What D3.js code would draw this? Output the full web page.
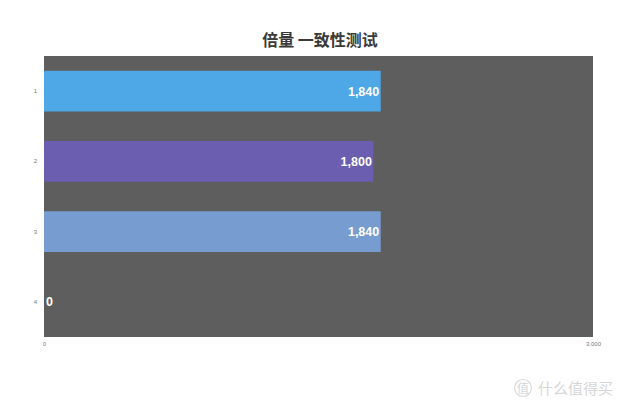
<!DOCTYPE html>
<html>
<head>
<meta charset="utf-8">
<script src="https://cdn.jsdelivr.net/npm/d3@7"></script>
<style>
	body { margin: 0; background: #fff; }
	svg { display: block; font-family: "Noto Sans CJK SC", "Liberation Sans", sans-serif; }
</style>
</head>
<body>
<svg id="chart"></svg>
<script>
var title = "倍量 一致性测试";
var categories = ["1", "2", "3", "4"];
var values = [1840, 1800, 1840, 0];
var barColors = ["#4ea7e7", "#6b5db0", "#779dd0", "#5e5e5e"];
var xTicks = [0, 3000];

var width = 640, height = 410;
var margin = {top: 56, right: 47, bottom: 73, left: 44};

var svg = d3.select("#chart")
	.attr("width", width)
	.attr("height", height);

var innerW = width - margin.left - margin.right,
	innerH = height - margin.top - margin.bottom;

var x = d3.scaleLinear().domain([0, 3000]).range([0, innerW]);
var y = d3.scaleBand().domain(categories).range([0, innerH]).paddingInner(0.42).paddingOuter(0.21);

svg.append("text")
	.attr("x", width / 2)
	.attr("y", 46)
	.attr("text-anchor", "middle")
	.style("font-size", "16px")
	.style("font-weight", "bold")
	.style("fill", "#3a3a3a")
	.text(title);

var g = svg.append("g").attr("transform", "translate(" + margin.left + "," + margin.top + ")");

// plot background
g.append("rect")
	.attr("width", innerW)
	.attr("height", innerH)
	.style("fill", "#5e5e5e");

g.selectAll("rect.bar")
	.data(values)
	.enter().append("rect")
		.attr("class", "bar")
		.attr("x", 0)
		.attr("y", function(d, i) { return y(categories[i]); })
		.attr("width", function(d) { return x(d); })
		.attr("height", y.bandwidth())
		.style("fill", function(d, i) { return barColors[i]; });

// value labels, right aligned inside the bar, or just after the axis for 0
g.selectAll("text.val")
	.data(values)
	.enter().append("text")
		.attr("class", "val")
		.attr("x", function(d) { return d > 0 ? x(d) - 1.5 : 2; })
		.attr("y", function(d, i) { return y(categories[i]) + y.bandwidth() / 2; })
		.attr("dy", "0.36em")
		.attr("text-anchor", function(d) { return d > 0 ? "end" : "start"; })
		.style("font-family", "'Liberation Sans', Arial, sans-serif")
		.style("font-size", "12.5px")
		.style("font-weight", "bold")
		.style("fill", "#fff")
		.text(function(d) { return d3.format(",")(d); });

// axes, only labels
var yAxis = g.append("g").call(d3.axisLeft(y).tickSize(0).tickPadding(7));
var xAxis = g.append("g")
	.attr("transform", "translate(0," + innerH + ")")
	.call(d3.axisBottom(x).tickValues(xTicks).tickFormat(d3.format(",")).tickSize(0).tickPadding(5));

[yAxis, xAxis].forEach(function(a) {
	a.select(".domain").remove();
	a.selectAll("text")
		.style("font-family", "'Liberation Sans', Arial, sans-serif")
		.style("font-size", "6px")
		.style("fill", "#777");
});

// watermark
var wm = svg.append("g").attr("transform", "translate(523,388)");
wm.append("circle")
	.attr("r", 8.5)
	.style("fill", "none")
	.style("stroke", "#d8d8d8")
	.style("stroke-width", 1.2);
wm.append("text")
	.attr("y", 4.5)
	.attr("text-anchor", "middle")
	.style("font-size", "12px")
	.style("fill", "#d6d6d6")
	.text("值");
wm.append("text")
	.attr("x", 15)
	.attr("y", 5.5)
	.style("font-size", "15px")
	.style("fill", "#d6d6d6")
	.text("什么值得买");
</script>
</body>
</html>
